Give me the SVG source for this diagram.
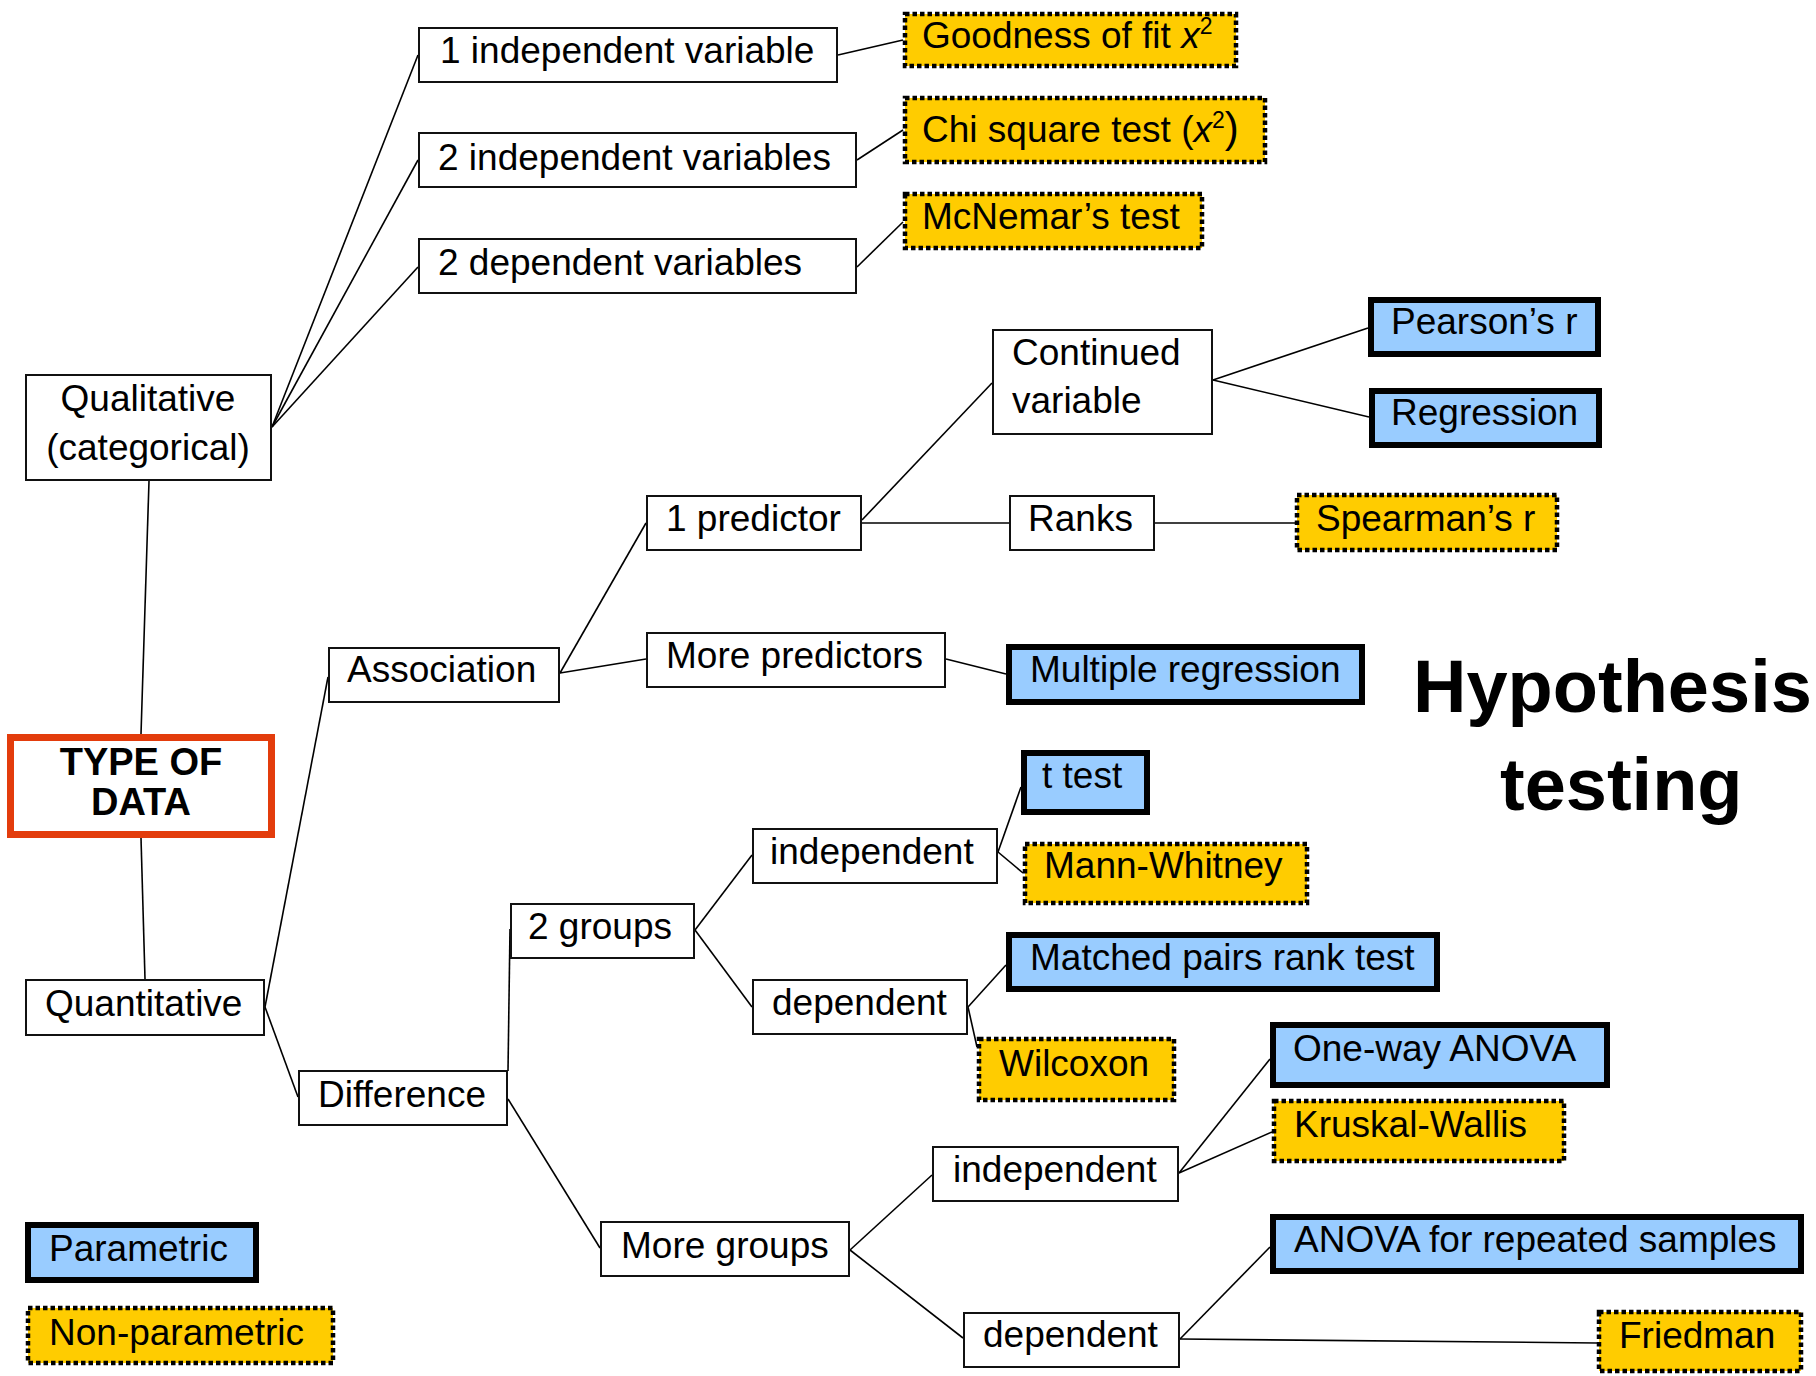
<svg xmlns="http://www.w3.org/2000/svg" width="1816" height="1376" viewBox="0 0 1816 1376">
<style>
text{font-family:"Liberation Sans",Arial,sans-serif;font-size:37px;fill:#000}
.plain{fill:#fff;stroke:#111;stroke-width:2}
.param{fill:#99CCFF;stroke:#000;stroke-width:6}
.nonp{fill:#FFCC00;stroke:#000;stroke-width:4.5;stroke-dasharray:4.5 3}
.root{fill:#fff;stroke:#E33C0C;stroke-width:7}
.c line{stroke:#000;stroke-width:1.6}
.b{font-weight:bold}
.sup{font-size:23px}
</style>
<rect width="1816" height="1376" fill="#fff"/>
<g class="c" id="connectors">
<line x1="272" y1="427" x2="418" y2="55"/>
<line x1="272" y1="427" x2="418" y2="160"/>
<line x1="272" y1="427" x2="418" y2="267"/>
<line x1="838" y1="55" x2="903" y2="40"/>
<line x1="857" y1="160" x2="903" y2="130"/>
<line x1="857" y1="267" x2="903" y2="222"/>
<line x1="149" y1="481" x2="141" y2="734"/>
<line x1="141" y1="838" x2="145" y2="979"/>
<line x1="265" y1="1007" x2="328" y2="677"/>
<line x1="265" y1="1007" x2="298" y2="1097"/>
<line x1="560" y1="673" x2="646" y2="523"/>
<line x1="560" y1="673" x2="646" y2="659"/>
<line x1="862" y1="520" x2="992" y2="383"/>
<line x1="862" y1="523" x2="1009" y2="523"/>
<line x1="1155" y1="523" x2="1295" y2="523"/>
<line x1="1213" y1="380" x2="1368" y2="328"/>
<line x1="1213" y1="380" x2="1369" y2="417"/>
<line x1="946" y1="659" x2="1006" y2="674"/>
<line x1="508" y1="1071" x2="510" y2="929"/>
<line x1="508" y1="1099" x2="600" y2="1248"/>
<line x1="695" y1="930" x2="752" y2="855"/>
<line x1="695" y1="930" x2="752" y2="1007"/>
<line x1="998" y1="852" x2="1021" y2="787"/>
<line x1="998" y1="852" x2="1023" y2="873"/>
<line x1="968" y1="1007" x2="1006" y2="965"/>
<line x1="968" y1="1007" x2="977" y2="1047"/>
<line x1="850" y1="1250" x2="932" y2="1175"/>
<line x1="850" y1="1250" x2="963" y2="1338"/>
<line x1="1179" y1="1173" x2="1270" y2="1059"/>
<line x1="1179" y1="1173" x2="1272" y2="1132"/>
<line x1="1180" y1="1339" x2="1270" y2="1247"/>
<line x1="1180" y1="1339" x2="1597" y2="1343"/>
</g>

<g id="n-root"><rect class="root" x="10.5" y="737.5" width="261" height="97"/><text class="b" x="141" y="775" text-anchor="middle" style="font-size:38px">TYPE OF</text><text class="b" x="141" y="815" text-anchor="middle" style="font-size:38px">DATA</text></g>
<g id="n-qual"><rect class="plain" x="26" y="375" width="245" height="105"/><text x="148" y="411" text-anchor="middle">Qualitative</text><text x="148" y="460" text-anchor="middle">(categorical)</text></g>
<g id="n-ind1"><rect class="plain" x="419" y="28" width="418" height="54"/><text x="440" y="63">1 independent variable</text></g>
<g id="n-ind2"><rect class="plain" x="419" y="133" width="437" height="54"/><text x="438" y="170">2 independent variables</text></g>
<g id="n-dep2"><rect class="plain" x="419" y="239" width="437" height="54"/><text x="438" y="275">2 dependent variables</text></g>
<g id="n-good"><rect class="nonp" x="905" y="14" width="331" height="52"/><text x="922" y="48">Goodness of fit <tspan font-style="italic">x</tspan><tspan class="sup" dy="-14">2</tspan></text></g>
<g id="n-chi"><rect class="nonp" x="905" y="98" width="360" height="64"/><text x="922" y="142">Chi square test (<tspan font-style="italic">x</tspan><tspan class="sup" dy="-14">2</tspan><tspan dy="14" style="font-size:42px">)</tspan></text></g>
<g id="n-mcn"><rect class="nonp" x="905" y="194" width="297" height="54"/><text x="922" y="229">McNemar’s test</text></g>
<g id="n-cont"><rect class="plain" x="993" y="330" width="219" height="104"/><text x="1012" y="365">Continued</text><text x="1012" y="413">variable</text></g>
<g id="n-pear"><rect class="param" x="1371" y="300" width="227" height="54"/><text x="1391" y="334">Pearson’s r</text></g>
<g id="n-reg"><rect class="param" x="1372" y="391" width="227" height="54"/><text x="1391" y="425">Regression</text></g>
<g id="n-pred1"><rect class="plain" x="647" y="496" width="214" height="54"/><text x="666" y="531">1 predictor</text></g>
<g id="n-ranks"><rect class="plain" x="1010" y="496" width="144" height="54"/><text x="1028" y="531">Ranks</text></g>
<g id="n-spear"><rect class="nonp" x="1297" y="495" width="260" height="55"/><text x="1316" y="531">Spearman’s r</text></g>
<g id="n-assoc"><rect class="plain" x="329" y="648" width="230" height="54"/><text x="347" y="682">Association</text></g>
<g id="n-morep"><rect class="plain" x="647" y="633" width="298" height="54"/><text x="666" y="668">More predictors</text></g>
<g id="n-mreg"><rect class="param" x="1009" y="647" width="353" height="55"/><text x="1030" y="682">Multiple regression</text></g>
<g id="n-title"><text class="b" x="1413" y="712" style="font-size:74px">Hypothesis</text><text class="b" x="1500" y="810" style="font-size:74px">testing</text></g>
<g id="n-ttest"><rect class="param" x="1024" y="753" width="123" height="59"/><text x="1042" y="788">t test</text></g>
<g id="n-indA"><rect class="plain" x="753" y="829" width="244" height="54"/><text x="770" y="864">independent</text></g>
<g id="n-mann"><rect class="nonp" x="1025" y="844" width="282" height="59"/><text x="1044" y="878">Mann-Whitney</text></g>
<g id="n-2g"><rect class="plain" x="511" y="904" width="183" height="54"/><text x="528" y="939">2 groups</text></g>
<g id="n-match"><rect class="param" x="1009" y="935" width="428" height="54"/><text x="1030" y="970">Matched pairs rank test</text></g>
<g id="n-quant"><rect class="plain" x="26" y="980" width="238" height="55"/><text x="45" y="1016">Quantitative</text></g>
<g id="n-depA"><rect class="plain" x="753" y="980" width="214" height="54"/><text x="772" y="1015">dependent</text></g>
<g id="n-wilc"><rect class="nonp" x="979" y="1039" width="195" height="61"/><text x="999" y="1076">Wilcoxon</text></g>
<g id="n-diff"><rect class="plain" x="299" y="1071" width="208" height="54"/><text x="318" y="1107">Difference</text></g>
<g id="n-owa"><rect class="param" x="1273" y="1025" width="334" height="60"/><text x="1293" y="1061">One-way ANOVA</text></g>
<g id="n-krus"><rect class="nonp" x="1274" y="1101" width="290" height="60"/><text x="1294" y="1137">Kruskal-Wallis</text></g>
<g id="n-indB"><rect class="plain" x="933" y="1147" width="245" height="54"/><text x="953" y="1182">independent</text></g>
<g id="n-anr"><rect class="param" x="1273" y="1217" width="528" height="54"/><text x="1294" y="1252">ANOVA for repeated samples</text></g>
<g id="n-moreg"><rect class="plain" x="601" y="1222" width="248" height="54"/><text x="621" y="1258">More groups</text></g>
<g id="n-depB"><rect class="plain" x="964" y="1313" width="215" height="54"/><text x="983" y="1347">dependent</text></g>
<g id="n-fried"><rect class="nonp" x="1599" y="1312" width="202" height="59"/><text x="1619" y="1348">Friedman</text></g>
<g id="n-legP"><rect class="param" x="28" y="1225" width="228" height="55"/><text x="49" y="1261">Parametric</text></g>
<g id="n-legN"><rect class="nonp" x="28" y="1308" width="305" height="55"/><text x="49" y="1345">Non-parametric</text></g>
</svg>
